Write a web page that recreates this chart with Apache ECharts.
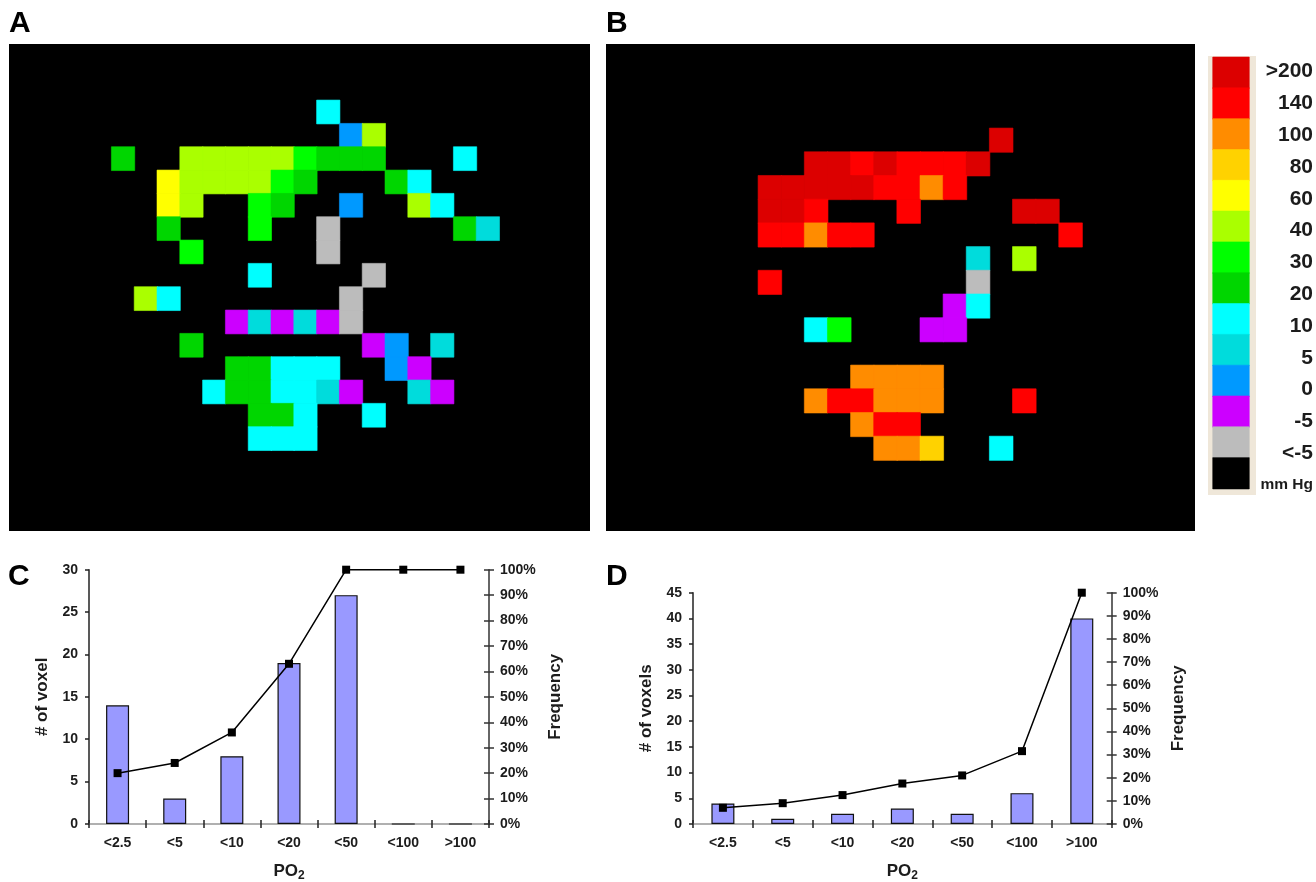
<!DOCTYPE html>
<html><head><meta charset="utf-8">
<style>html,body{margin:0;padding:0;background:#fff}#c{width:1316px;height:882px}</style>
<script src="https://cdn.jsdelivr.net/npm/echarts@6/dist/echarts.min.js"></script>
</head><body><div id="c"></div>
<script>
// Voxel maps: one string per row, one letter per voxel, '.' = no value
const rowsA = [
  ".........c.......",
  "..........bl.....",
  "d..lllllnddd...c.",
  "..yllllnd...dc...",
  "..yl..nd..b..lc..",
  "..d...n..g.....dt",
  "...n.....g.......",
  "......c....g.....",
  ".lc.......g......",
  ".....ptptpg......",
  "...d.......pb.t..",
  ".....ddccc..bp...",
  "....cddcctp..tp..",
  "......ddc..c.....",
  "......ccc........"
];
const rowsB = [
  "..........k....",
  "..kkrkrrrk.....",
  "kkkkkrror......",
  "kkr...r....kk..",
  "rrorr........r.",
  ".........t.l...",
  "r........g.....",
  "........pc.....",
  "..cn...pp......",
  "...............",
  "....oooo.......",
  "..orrooo...r...",
  "....orr........",
  ".....oof..c...."
];
// Colour scale, top to bottom
const scaleKeys   = ['k','r','o','f','y','l','n','d','c','t','b','p','g','z'];
const scaleLabels = ['>200','140','100','80','60','40','30','20','10','5','0','-5','<-5','mm Hg'];
const scaleColors = ['#dc0000','#ff0000','#ff8c00','#ffd200','#ffff00','#aaff00','#00ff00','#00d600','#00ffff','#00dcdc','#0099ff','#cc00ff','#bcbcbc','#000000'];
// Histograms
const po2Bins = ['<2.5','<5','<10','<20','<50','<100','>100'];
const countsC = [14,3,8,19,27,0,0];
const freqC   = [20,24,36,63,100,100,100];
const countsD = [4,1,2,3,2,6,40];
const freqD   = [7,9,12.5,17.5,21,31.5,100];

const FONT = '"Liberation Sans", Arial, sans-serif';
const INK = '#1c1c1c';

function range(n){return Array.from({length:n},(_,i)=>i);}
function cellStyle(color){return {color:color,borderColor:color,borderWidth:0.6};}
function cells(rows,dc,dr){
  const out=[];
  rows.forEach((s,r)=>{[...s].forEach((ch,c)=>{
    if(ch==='.')return;
    out.push({value:[c+dc,r+dr,1],itemStyle:cellStyle(scaleColors[scaleKeys.indexOf(ch)])});
  });});
  return out;
}
const grid=[], xAxis=[], yAxis=[], series=[];
function addGrid(g){grid.push(Object.assign({containLabel:false,borderWidth:0,outerBoundsMode:'none'},g));return grid.length-1;}
function hiddenCat(gi,n,extra){return Object.assign({type:'category',gridIndex:gi,show:false,data:range(n)},extra||{});}

// black fields and colourbar frame
addGrid({show:true,backgroundColor:'#000',left:9,top:44,width:581,height:487});
addGrid({show:true,backgroundColor:'#000',left:606,top:44,width:589,height:487});
addGrid({show:true,backgroundColor:'#efe7d9',left:1208,top:56,width:48,height:439});

function addHeat(g,nc,nr,data){
  const gi=addGrid(g);
  xAxis.push(hiddenCat(gi,nc));
  yAxis.push(hiddenCat(gi,nr,{inverse:true}));
  series.push({type:'heatmap',xAxisIndex:xAxis.length-1,yAxisIndex:yAxis.length-1,data:data,silent:true,emphasis:{disabled:true}});
}
addHeat({left:20.47,top:53.67,width:547.2,height:466.6},24,20,cells(rowsA,4,2));
addHeat({left:619.55,top:57.23,width:555.12,height:426.6},24,18,cells(rowsB,6,3));

// colourbar cells
addHeat({left:1213,top:57.3,width:36,height:431.4},1,scaleLabels.length,
  scaleLabels.map((l,i)=>({value:[0,i,1],itemStyle:cellStyle(scaleColors[i])})));
// colourbar labels: spaced slightly wider than the cells, as in the figure
(function(){
  const gi=addGrid({left:1213,top:55.8,width:36,height:445.2});
  xAxis.push(hiddenCat(gi,1));
  yAxis.push({type:'category',gridIndex:gi,inverse:true,position:'right',data:scaleLabels,
    axisLine:{show:false},axisTick:{show:false},
    axisLabel:{show:true,interval:0,align:'right',margin:64,color:INK,fontFamily:FONT,fontWeight:'bold',fontSize:21,
      formatter:v=>v==='mm Hg'?'{s|mm Hg}':v,
      rich:{s:{fontFamily:FONT,fontWeight:'bold',fontSize:15.5,color:INK}}}});
})();

function addHist(rect,counts,freq,maxL,nameL,gaps){
  const label={color:INK,fontFamily:FONT,fontWeight:'bold',fontSize:14};
  const nameStyle={color:INK,fontFamily:FONT,fontWeight:'bold',fontSize:17};
  const gi=addGrid(rect);
  const x0=xAxis.length, y0=yAxis.length;
  xAxis.push({type:'category',gridIndex:gi,position:'bottom',data:po2Bins,
    axisLine:{lineStyle:{color:'#222',width:1.5}},
    axisTick:{show:true,length:4,lineStyle:{color:'#222',width:1.5}},
    axisLabel:Object.assign({interval:0,margin:12},label),
    name:'PO{s|2}',nameLocation:'middle',nameGap:gaps.x,
    nameTextStyle:Object.assign({},nameStyle,{fontSize:17,rich:{s:{fontFamily:FONT,fontWeight:'bold',fontSize:12,color:INK,verticalAlign:'bottom',padding:[10,0,0,0]}}})});
  xAxis.push({type:'category',gridIndex:gi,position:'top',data:po2Bins,
    axisLine:{lineStyle:{color:'#b0b0b0',width:2}},axisTick:{show:false},axisLabel:{show:false}});
  yAxis.push({type:'value',gridIndex:gi,position:'left',min:0,max:maxL,interval:5,
    splitLine:{show:false},
    axisLine:{show:true,lineStyle:{color:'#222',width:1.5}},
    axisTick:{show:true,length:4,lineStyle:{color:'#222',width:1.5}},
    axisLabel:Object.assign({margin:11},label),
    name:nameL,nameLocation:'middle',nameGap:gaps.l,nameTextStyle:nameStyle});
  yAxis.push({type:'value',gridIndex:gi,position:'right',min:0,max:100,interval:10,
    splitLine:{show:false},
    axisLine:{show:true,lineStyle:{color:'#333',width:1.5}},
    axisTick:{show:true,length:5,lineStyle:{color:'#333',width:1.5}},
    axisLabel:Object.assign({margin:11,formatter:'{value}%'},label),
    name:'Frequency',nameLocation:'middle',nameGap:gaps.r,nameTextStyle:nameStyle});
  series.push({type:'bar',xAxisIndex:x0,yAxisIndex:y0,data:counts,barWidth:23,silent:true,
    itemStyle:{color:'#9999ff',borderColor:'#111',borderWidth:1.2}});
  series.push({type:'line',xAxisIndex:x0,yAxisIndex:y0+1,data:freq,symbol:'rect',symbolSize:8,silent:true,z:5,
    lineStyle:{color:'#000',width:1.5},itemStyle:{color:'#000'}});
  // inward half of the crossing ticks
  const gi2=addGrid(rect);
  xAxis.push({type:'category',gridIndex:gi2,position:'bottom',data:po2Bins,
    axisLine:{show:false},axisTick:{show:true,inside:true,length:4,lineStyle:{color:'#222',width:1.5}},axisLabel:{show:false}});
  yAxis.push({type:'value',gridIndex:gi2,position:'right',min:0,max:100,interval:10,splitLine:{show:false},
    axisLine:{show:false},axisTick:{show:true,inside:true,length:5,lineStyle:{color:'#333',width:1.5}},axisLabel:{show:false}});
}
addHist({left:89,top:569.7,width:400,height:254.3},countsC,freqC,30,'# of voxel',{x:36,l:38,r:58});
addHist({left:693,top:592.7,width:418.7,height:231.3},countsD,freqD,45,'# of voxels',{x:36,l:38,r:58});

const letter=(t,l,tp)=>({text:t,left:l,top:tp,padding:0,textStyle:{fontFamily:FONT,fontWeight:'bold',fontSize:30,lineHeight:30,color:'#000'}});
const option={
  animation:false,backgroundColor:'#fff',
  title:[letter('A',9,9),letter('B',606,9),letter('C',8,562),letter('D',606,562)],
  grid,xAxis,yAxis,series
};
echarts.init(document.getElementById('c'),null,{renderer:'canvas'}).setOption(option);
</script></body></html>
